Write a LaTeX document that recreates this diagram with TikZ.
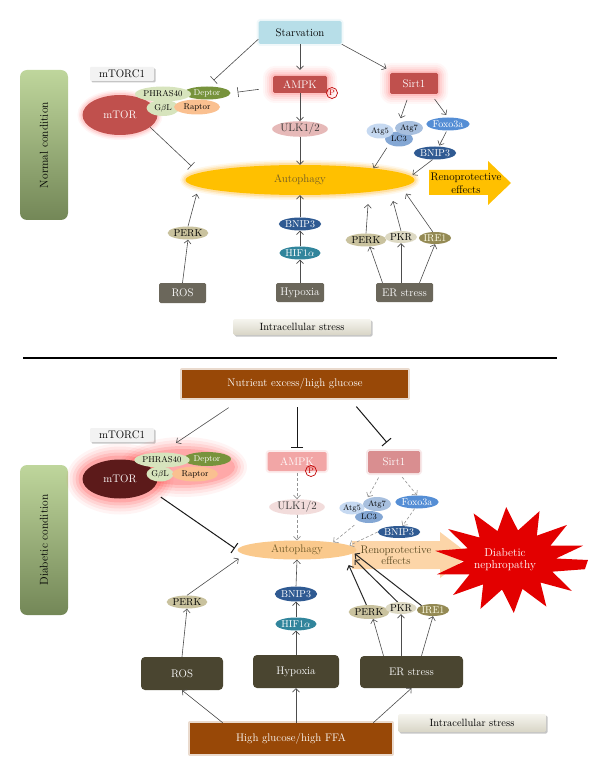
\documentclass[tikz,border=0pt]{standalone}
\usepackage{fontspec}
\usetikzlibrary{shapes.geometric,arrows.meta,shadows}
\definecolor{starvblue}{HTML}{B7DEE8}
\definecolor{boxred}{HTML}{C0504D}
\definecolor{glowpink}{HTML}{FF7A7A}
\definecolor{phrasgreen}{HTML}{D7E4BD}
\definecolor{deptorgreen}{HTML}{77933C}
\definecolor{raptororange}{HTML}{FAC090}
\definecolor{ulkpink}{HTML}{E6B9B8}
\definecolor{autogold}{HTML}{FFC000}
\definecolor{autotext}{HTML}{6E5A28}
\definecolor{atgfive}{HTML}{C6D9F1}
\definecolor{atgseven}{HTML}{A7BFDE}
\definecolor{lcthree}{HTML}{84A7D4}
\definecolor{foxoblue}{HTML}{558ED5}
\definecolor{bnipblue}{HTML}{2F5A92}
\definecolor{hifteal}{HTML}{31859C}
\definecolor{perktan}{HTML}{C9C29E}
\definecolor{pkrtan}{HTML}{DDD9C3}
\definecolor{ireolive}{HTML}{948A54}
\definecolor{stressgray}{HTML}{6B675B}
\definecolor{stressdark}{HTML}{4A4530}
\definecolor{nutribrown}{HTML}{984807}
\definecolor{condlight}{HTML}{BFD69C}
\definecolor{conddark}{HTML}{738757}
\definecolor{labelgray}{HTML}{F2F2F2}
\definecolor{intralight}{HTML}{F6F5EF}
\definecolor{intradark}{HTML}{D8D5C6}
\definecolor{ampkpale}{HTML}{F2A6A6}
\definecolor{sirtpale}{HTML}{D98E90}
\definecolor{ulkpale}{HTML}{F2DCDB}
\definecolor{mtordark}{HTML}{5C1A1A}
\definecolor{glowred}{HTML}{FF2A2A}
\definecolor{autopale}{HTML}{FAC98C}
\definecolor{renopale}{HTML}{FCD5A8}
\definecolor{starred}{HTML}{E30000}
\definecolor{linegray}{HTML}{4D4D4D}
\definecolor{phosred}{HTML}{C00000}
\tikzset{
	sz/.style 2 args={minimum width=#1pt,minimum height=#2pt},
	box/.style={rectangle,rounded corners=1.5pt,inner sep=0,text=white},
	oval/.style={ellipse,inner sep=0},
	smalltext/.style={font=\fontsize{8.5}{9}\selectfont},
	midtext/.style={font=\fontsize{10}{11}\selectfont},
	glow/.style={preaction={draw=#1,line width=20pt,opacity=.06,line join=round},preaction={draw=#1,line width=16pt,opacity=.08,line join=round},preaction={draw=#1,line width=12pt,opacity=.1,line join=round},preaction={draw=#1,line width=8pt,opacity=.14,line join=round},preaction={draw=#1,line width=4pt,opacity=.2,line join=round}},
	thinglow/.style={preaction={draw=#1,line width=10pt,opacity=.08},preaction={draw=#1,line width=7pt,opacity=.12},preaction={draw=#1,line width=4pt,opacity=.2}},
	softglow/.style={preaction={draw=#1,line width=4pt,opacity=.2,line join=round}},
	cond/.style={rectangle,rounded corners=7pt,sz={48}{150},top color=condlight,bottom color=conddark},
	condtext/.style={rotate=90,font=\fontsize{11.5}{12}\selectfont},
	lab/.style={rectangle,rounded corners=1pt,fill=labelgray,sz={64}{14},inner sep=0,drop shadow={shadow xshift=1.5pt,shadow yshift=-1.5pt,fill=black!45,opacity=.5}},
	intra/.style={rectangle,rounded corners=1.5pt,top color=intralight,bottom color=intradark,inner sep=0,font=\fontsize{10.5}{11}\selectfont,drop shadow={shadow xshift=1.5pt,shadow yshift=-1.5pt,fill=black!45,opacity=.5}},
	phos/.style={circle,draw=phosred,text=phosred,minimum size=11pt,inner sep=0,line width=.7pt,font=\fontsize{8}{8}\selectfont},
	arr/.style={draw=linegray,line width=.6pt,-{Straight Barb[length=3.5pt,width=7pt]}},
	arrk/.style={arr,draw=black!85,line width=1pt},
	inh/.style={draw=linegray,line width=.6pt,-{Bar[width=10pt]}},
	inhk/.style={inh,draw=black!90,line width=1pt,-{Bar[width=12pt]}},
	dsh/.style={arr,draw=gray!85,dash pattern=on 3pt off 2pt}
}
\begin{document}
\begin{tikzpicture}[x=1pt,y=-1pt,every node/.style={font=\fontsize{11}{12}\selectfont}]
	\useasboundingbox (0,0) rectangle (600,775);
	\node[box,sz={83}{23},fill=starvblue,text=black,softglow=starvblue] (starvn) at (300,32.5) {Starvation};
	\node[cond] (condn) at (44,145) {};
	\node[condtext] (condtn) at (condn) {Normal condition};
	\node[lab] (mtorcn) at (122,74) {mTORC1};
	\node[oval,sz={75}{40},fill=boxred,text=white,thinglow=glowpink] (mtorn) at (120,115) {mTOR};
	\node[oval,smalltext,sz={47}{13},fill=deptorgreen,text=white] (deptorn) at (207,93) {Deptor};
	\node[oval,smalltext,sz={56}{15},fill=phrasgreen] (phrasn) at (163,94) {PHRAS40};
	\node[oval,smalltext,sz={33}{16},fill=phrasgreen] (gbln) at (163,108) {G$\beta$L};
	\node[oval,smalltext,sz={46}{15},fill=raptororange] (raptorn) at (197,107) {Raptor};
	\node[box,sz={54}{17},fill=boxred,glow=glowpink] (ampkn) at (300,84.5) {AMPK};
	\node[phos] (pn) at (332,93) {P};
	\node[box,sz={48}{21},fill=boxred,glow=glowpink] (sirtn) at (414,83.5) {Sirt1};
	\node[oval,sz={55}{12},fill=ulkpink,text=black!80] (ulkn) at (300,129) {ULK1/2};
	\node[oval,sz={229}{30},fill=autogold,text=autotext,thinglow=orange!70!yellow] (auton) at (300,180) {Autophagy};
	\node[oval,font=\fontsize{8}{9}\selectfont,sz={28}{15},fill=lcthree] (lcn) at (399,139) {LC3};
	\node[oval,font=\fontsize{8}{9}\selectfont,sz={27}{15},fill=atgfive] (atgfn) at (380,131) {Atg5};
	\node[oval,font=\fontsize{8}{9}\selectfont,sz={28}{14},fill=atgseven] (atgsn) at (409,128) {Atg7};
	\node[oval,midtext,sz={41}{13},fill=foxoblue,text=white] (foxon) at (448,124) {Foxo3a};
	\node[oval,midtext,sz={37}{13},fill=bnipblue,text=white] (bnipan) at (435,153) {BNIP3};
	\fill[autogold] (429,170) -- (488,170) -- (488,161) -- (511,183) -- (488,205) -- (488,195) -- (429,195) -- cycle;
	\node[align=center,font=\fontsize{11}{13}\selectfont] (renon) at (466,183) {Renoprotective\\effects};
	\node[box,sz={47}{20},fill=stressgray] (rosn) at (182.5,293) {ROS};
	\node[oval,midtext,sz={39}{13},fill=perktan] (perkan) at (188,233) {PERK};
	\node[box,sz={48}{19},fill=stressgray] (hypn) at (300,292.5) {Hypoxia};
	\node[oval,midtext,sz={38}{13},fill=hifteal,text=white] (hifn) at (300,253) {HIF1$\alpha$};
	\node[oval,midtext,sz={38}{13},fill=bnipblue,text=white] (bnipbn) at (300,224) {BNIP3};
	\node[box,sz={57}{19},fill=stressgray] (ern) at (404.5,292.5) {ER stress};
	\node[oval,midtext,sz={35}{13},fill=perktan] (perkbn) at (366,240) {PERK};
	\node[oval,midtext,sz={32}{12},fill=pkrtan] (pkrn) at (401,237) {PKR};
	\node[oval,midtext,sz={32}{12},fill=ireolive,text=white!90!yellow] (iren) at (435,238) {IRE1};
	\node[intra,sz={138}{16}] (intran) at (302,327) {Intracellular stress};
	\draw[arr,shorten >=6pt] (starvn.south) -- (ampkn.north);
	\draw[inh,shorten >=9pt] ([yshift=5pt]starvn.south west) -- (deptorn.north);
	\draw[inh,shorten <=14pt,shorten >=7pt] ([yshift=-3pt]ampkn.west) -- (deptorn.east);
	\draw[arr,shorten >=9pt] (starvn.south east) -- (sirtn);
	\draw[inh,shorten >=10pt] (mtorn.-22) -- (auton.176);
	\draw[arr] (ampkn.south) -- (ulkn.north);
	\draw[arr] (ulkn.south) -- (auton.north);
	\draw[arr,shorten <=6pt,shorten >=5pt] ([xshift=-5pt]sirtn.south) -- (atgsn.north west);
	\draw[arr,shorten <=6pt,shorten >=3pt] ([xshift=17pt]sirtn.south) -- (foxon.north);
	\draw[arr,shorten <=1pt,shorten >=1pt] (foxon.-100) -- (bnipan.60);
	\draw[arr,shorten <=4pt] (lcn.south west) -- (auton.9);
	\draw[arr,shorten >=2pt] (bnipan.-110) -- (auton.2);
	\draw[arr] (rosn.north) -- (perkan.south);
	\draw[arr,shorten >=7pt] (perkan.north) -- (auton.184);
	\draw[arr] (hypn.north) -- (hifn.south);
	\draw[arr] (hifn.north) -- (bnipbn.south);
	\draw[arr] (bnipbn.north) -- (auton.south);
	\draw[arr] ([xshift=-22pt]ern.north) -- (perkbn.-60);
	\draw[arr] (ern.north -| pkrn) -- (pkrn.south);
	\draw[arr] ([xshift=15pt]ern.north) -- (iren.south);
	\draw[arr,shorten >=12pt] (perkbn.north) -- (auton.-10);
	\draw[arr,shorten >=12pt] (pkrn.north) -- (auton.-6.6);
	\draw[arr,shorten >=8pt] (iren.110) -- (auton.-4);
	\draw[line width=1.2pt] (23,358) -- (557,358);
	\node[box,rounded corners=0,sz={226}{28},fill=nutribrown,softglow=nutribrown] (nutrd) at (295,384) {Nutrient excess/high glucose};
	\node[cond] (condd) at (44,540) {};
	\node[condtext] (condtd) at (condd) {Diabetic condition};
	\node[lab] (mtorcd) at (122,435) {mTORC1};
	\foreach \g/\o in {16/.05,13/.07,10/.09,7/.12,4/.16} {
		\fill[glowred,opacity=\o] (120,479) ellipse [x radius=37.5+\g,y radius=19.5+\g];
		\fill[glowred,opacity=\o] (183,467) ellipse [x radius=48+\g,y radius=14+\g];
	}
	\node[oval,sz={75}{39},fill=mtordark,text=white] (mtord) at (120,479) {mTOR};
	\node[oval,smalltext,sz={48}{14},fill=deptorgreen,text=white] (deptord) at (207,459) {Deptor};
	\node[oval,smalltext,sz={52}{15},fill=phrasgreen] (phrasd) at (162,460) {PHRAS40};
	\node[oval,smalltext,sz={27}{15},fill=phrasgreen] (gbld) at (160,474) {G$\beta$L};
	\node[oval,smalltext,sz={46}{15},fill=raptororange] (raptord) at (195,474) {Raptor};
	\node[box,sz={59}{19},fill=ampkpale,softglow=ampkpale] (ampkd) at (297,461.5) {AMPK};
	\node[phos] (pd) at (311,471) {P};
	\node[box,sz={52}{22},fill=sirtpale,softglow=sirtpale] (sirtd) at (394,462) {Sirt1};
	\node[oval,sz={40}{15},fill=ulkpale,text=black!80] (ulkd) at (297,507) {ULK1/2};
	\fill[renopale] (352,541) -- (440,541) -- (440,532) -- (470,555) -- (440,578) -- (440,569) -- (352,569) -- cycle;
	\node[oval,sz={119}{19},fill=autopale,text=autotext] (autod) at (297,550) {Autophagy};
	\node[align=center,text=autotext!80!black,font=\fontsize{11}{11}\selectfont] (renod) at (396,555) {Renoprotective\\effects};
	\fill[starred] (588,560) \foreach \k in {0,...,13} { -- ({510+76*cos(\k*360/14+10)},{560+53*sin(\k*360/14+10)}) -- ({510+46*cos((\k+.5)*360/14+10)},{560+30*sin((\k+.5)*360/14+10)}) } -- cycle;
	\node[align=center,text=white,font=\fontsize{11.5}{12}\selectfont] (nephd) at (505,560) {Diabetic\\nephropathy};
	\node[oval,font=\fontsize{8}{9}\selectfont,sz={28}{12},fill=lcthree] (lcd) at (369,517) {LC3};
	\node[oval,font=\fontsize{8}{9}\selectfont,sz={25}{13},fill=atgfive] (atgfd) at (352,508) {Atg5};
	\node[oval,font=\fontsize{8}{9}\selectfont,sz={28}{14},fill=atgseven] (atgsd) at (377,504) {Atg7};
	\node[oval,midtext,sz={40}{13},fill=foxoblue,text=white] (foxod) at (417,502) {Foxo3a};
	\node[oval,midtext,sz={40}{12},fill=bnipblue,text=white] (bnipad) at (399,532) {BNIP3};
	\node[box,rounded corners=4pt,sz={82}{33},fill=stressdark] (rosd) at (182,673.5) {ROS};
	\node[oval,midtext,sz={32}{13},fill=perktan] (perkad) at (187,602) {PERK};
	\node[box,rounded corners=4pt,sz={86}{33},fill=stressdark] (hypd) at (296,671.5) {Hypoxia};
	\node[oval,midtext,sz={40}{13},fill=hifteal,text=white] (hifd) at (296,624) {HIF1$\alpha$};
	\node[oval,midtext,sz={40}{15},fill=bnipblue,text=white] (bnipbd) at (296,594) {BNIP3};
	\node[box,rounded corners=4pt,sz={103}{32},fill=stressdark] (erd) at (411.5,672) {ER stress};
	\node[oval,midtext,sz={32}{14},fill=perktan] (perkbd) at (369,612) {PERK};
	\node[oval,midtext,sz={28}{12},fill=pkrtan] (pkrd) at (401,608) {PKR};
	\node[oval,midtext,sz={29}{12},fill=ireolive,text=white!90!yellow] (ired) at (433,610) {IRE1};
	\node[box,rounded corners=0,sz={202}{31},fill=nutribrown,softglow=nutribrown] (hgd) at (291,738.5) {High glucose/high FFA};
	\node[intra,sz={148}{18}] (intrad) at (472,723) {Intracellular stress};
	\draw[arr,shorten <=17pt,shorten >=17pt] ([xshift=61pt]nutrd.south west) -- (phrasd.north);
	\draw[inhk,shorten <=9pt,shorten >=4pt] (nutrd.south -| ampkd) -- (ampkd.north);
	\draw[inhk,shorten <=11pt,shorten >=11pt] ([xshift=-59pt]nutrd.south east) -- (sirtd.north);
	\draw[inhk,shorten <=12pt,shorten >=3pt] (mtord.-20) -- (autod.west);
	\draw[dsh,shorten <=2pt] (ampkd.south) -- (ulkd.north);
	\draw[dsh] (ulkd.south) -- (autod.north);
	\draw[dsh,shorten <=5pt,shorten >=2pt] ([xshift=-13pt]sirtd.south) -- (atgsd.north west);
	\draw[dsh,shorten <=5pt] ([xshift=5pt]sirtd.south) -- (foxod.north);
	\draw[dsh] (foxod.-110) -- (bnipad.60);
	\draw[dsh,shorten <=6pt] (lcd.south west) -- (autod.12);
	\draw[dsh] (bnipad.west) -- (autod.5);
	\draw[arr] (rosd.north) -- (perkad.south);
	\draw[arr,shorten >=7pt] (perkad.north) -- (autod.185.5);
	\draw[arr] (hypd.north) -- (hifd.south);
	\draw[arr] (hifd.north) -- (bnipbd.south);
	\draw[arr] (bnipbd.north) -- (autod.south);
	\draw[arr] ([xshift=-28pt]erd.north) -- (perkbd.-60);
	\draw[arr] (erd.north -| pkrd) -- (pkrd.south);
	\draw[arr] ([xshift=10pt]erd.north) -- (ired.south);
	\draw[arrk,shorten >=10pt] (perkbd.110) -- (autod.-7.4);
	\draw[arrk,shorten >=7pt] (pkrd.120) -- (autod.-5);
	\draw[arrk,shorten >=1pt] (ired.north west) -- (autod.-3);
	\draw[arr] ([xshift=33pt]hgd.north west) -- (rosd.south);
	\draw[arr] (hgd.north -| hypd) -- (hypd.south);
	\draw[arr] ([xshift=-19pt]hgd.north east) -- (erd.south);
\end{tikzpicture}
\end{document}
